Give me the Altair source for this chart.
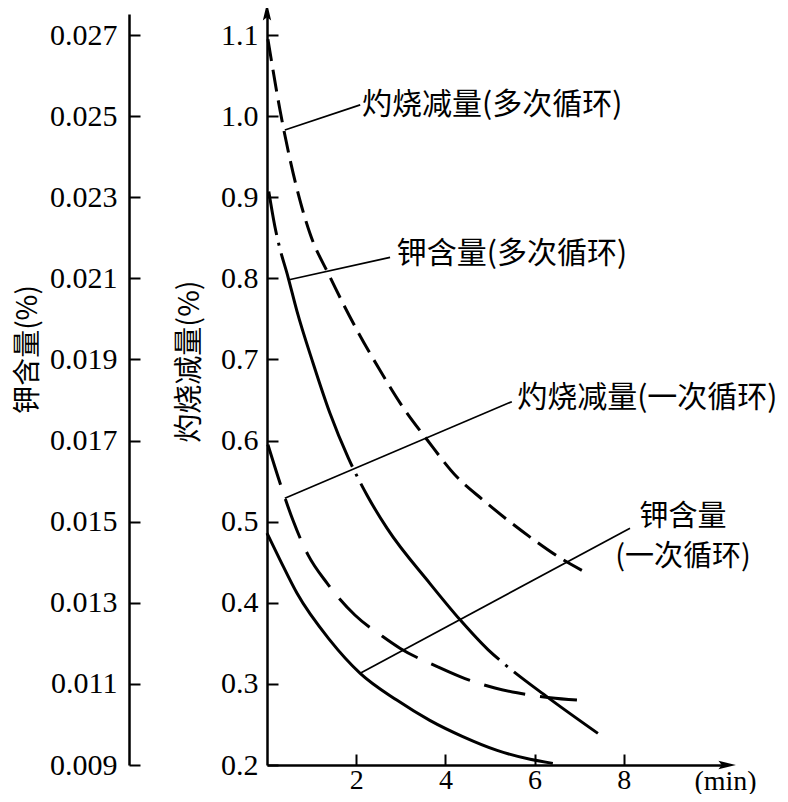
import altair as alt
import pandas as pd

# ---------------- data ----------------
# time in min; loss on ignition in %, potassium content in %
loi_multi_t = [0.02, 0.29, 0.78, 0.96, 1.41, 2.02, 2.53, 3.05, 3.59, 4.26, 4.84, 5.90, 6.64, 7.06]
loi_multi_v = [1.095, 1.008, 0.888, 0.856, 0.802, 0.736, 0.687, 0.641, 0.601, 0.555, 0.527, 0.481, 0.453, 0.440]

loi_single_t = [0.02, 0.29, 0.58, 0.92, 1.35, 1.97, 2.58, 2.98, 3.83, 4.33, 5.11, 5.61, 6.35, 6.95]
loi_single_v = [0.595, 0.548, 0.502, 0.459, 0.424, 0.385, 0.359, 0.344, 0.321, 0.309, 0.295, 0.289, 0.283, 0.280]

k_multi_t = [0.04, 0.18, 0.27, 0.47, 0.67, 1.03, 1.41, 1.82, 2.25, 2.69, 3.65, 4.33, 4.96, 5.29, 6.28, 7.42]
k_multi_v = [0.02314, 0.02226, 0.02182, 0.02104, 0.02020, 0.01892, 0.01768, 0.01658, 0.01564, 0.01484,
             0.01348, 0.01258, 0.01184, 0.01152, 0.01068, 0.00978]

k_single_t = [0.00, 0.30, 0.67, 1.41, 2.09, 2.91, 3.65, 4.39, 5.16, 5.90, 6.41]
k_single_v = [0.01472, 0.01404, 0.01324, 0.01208, 0.01126, 0.01060, 0.01010, 0.00970, 0.00936, 0.00914, 0.00904]

x_ticks = [2, 4, 6, 8]
loi_ticks = [0.2, 0.3, 0.4, 0.5, 0.6, 0.7, 0.8, 0.9, 1.0, 1.1]
k_ticks = [0.009, 0.011, 0.013, 0.015, 0.017, 0.019, 0.021, 0.023, 0.025, 0.027]

# annotations (loss-on-ignition units)
lead_t1 = [0.40, 0.47, 0.40, 2.09]
lead_v1 = [0.983, 0.798, 0.529, 0.313]
lead_t2 = [2.09, 2.76, 5.49, 8.14]
lead_v2 = [1.014, 0.826, 0.648, 0.492]

label_left_text = ["灼烧减量(多次循环)", "钾含量(多次循环)", "灼烧减量(一次循环)"]
label_left_t = [2.13, 2.91, 5.61]
label_left_v = [1.014, 0.830, 0.653]

label_center_text = ["钾含量", "(一次循环)"]
label_center_t = [9.33, 9.33]
label_center_v = [0.506, 0.456]

# ---------------- scales ----------------
X_MAX = 10.27
Y_MIN, Y_MAX = 0.2, 1.126
K_MIN = 0.009
K_MAX = K_MIN + 0.02 * (Y_MAX - Y_MIN)

FONT_NUM = "Liberation Serif"
FONT_CJK = "Noto Sans CJK SC"

x_scale = alt.Scale(domain=[0, X_MAX], nice=False, zero=False)
yl_scale = alt.Scale(domain=[Y_MIN, Y_MAX], nice=False, zero=False)
yk_scale = alt.Scale(domain=[K_MIN, K_MAX], nice=False, zero=False)

common_axis = dict(
    grid=False, domainColor="black", domainWidth=2.5, tickColor="black", tickWidth=2,
    tickSize={"expr": "-11"}, labelFont=FONT_NUM, labelColor="black",
    labelOverlap=False, titleColor="black", titleFontWeight="normal",
)

x_axis = alt.Axis(
    values=x_ticks, format="d", labelPadding=12, labelFlush=False, labelFontSize=28,
    title="(min)", titleFont=FONT_NUM, titleFontSize=28, titleX=458, titleY=16,
    titleAlign="center", titleBaseline="middle", **common_axis,
)
yl_axis = alt.Axis(
    orient="left", values=loi_ticks, format=".1f", labelPadding=20, labelFontSize=30,
    title="灼烧减量(%)", titleFont=FONT_CJK, titleFontSize=29, titleAngle=270,
    titleX=-78, titleY=347, titleAlign="center", titleBaseline="middle", **common_axis,
)
yk_axis = alt.Axis(
    orient="left", offset=138, values=k_ticks, format=".3f", labelPadding=23, labelFontSize=30,
    title="钾含量(%)", titleFont=FONT_CJK, titleFontSize=28, titleAngle=270,
    titleX=-101, titleY=335, titleAlign="center", titleBaseline="middle", **common_axis,
)

X = alt.X("t:Q", scale=x_scale, axis=x_axis)
YL = alt.Y("v:Q", scale=yl_scale, axis=yl_axis)
YK = alt.Y("v:Q", scale=yk_scale, axis=yk_axis)

df_loi_multi = pd.DataFrame({"t": loi_multi_t, "v": loi_multi_v})
df_loi_single = pd.DataFrame({"t": loi_single_t, "v": loi_single_v})
df_k_multi = pd.DataFrame({"t": k_multi_t, "v": k_multi_v})
df_k_single = pd.DataFrame({"t": k_single_t, "v": k_single_v})
df_lead = pd.DataFrame({"t": lead_t1, "v": lead_v1, "t2": lead_t2, "v2": lead_v2})
df_lab_left = pd.DataFrame({"t": label_left_t, "v": label_left_v, "text": label_left_text})
df_lab_center = pd.DataFrame({"t": label_center_t, "v": label_center_v, "text": label_center_text})
df_arrow_up = pd.DataFrame({"t": [0.0], "v": [Y_MAX]})
df_arrow_right = pd.DataFrame({"t": [X_MAX], "v": [Y_MIN]})

line_loi_multi = alt.Chart(df_loi_multi).mark_line(
    color="black", strokeWidth=3, strokeDash=[22, 9], interpolate="monotone"
).encode(x=X, y=YL)

line_loi_single = alt.Chart(df_loi_single).mark_line(
    color="black", strokeWidth=3, strokeDash=[42, 15], interpolate="monotone"
).encode(x=X, y=YL)

leads = alt.Chart(df_lead).mark_rule(color="black", strokeWidth=1.7).encode(
    x=X, y=YL, x2="t2:Q", y2="v2:Q"
)

labels_left = alt.Chart(df_lab_left).mark_text(
    align="left", baseline="middle", font=FONT_CJK, fontSize=30, color="black"
).encode(x=X, y=YL, text="text:N")

labels_center = alt.Chart(df_lab_center).mark_text(
    align="center", baseline="middle", font=FONT_CJK, fontSize=29, color="black"
).encode(x=X, y=YL, text="text:N")

arrow_up = alt.Chart(df_arrow_up).mark_point(
    shape="M0,-1L0.38,0.6L0,0.3L-0.38,0.6Z", filled=True, size=480, color="black", opacity=1
).encode(x=X, y=YL)

arrow_right = alt.Chart(df_arrow_right).mark_point(
    shape="M1,0L-0.6,0.38L-0.3,0L-0.6,-0.38Z", filled=True, size=480, color="black", opacity=1
).encode(x=X, y=YL)

line_k_multi = alt.Chart(df_k_multi).mark_line(
    color="black", strokeWidth=3, strokeDash=[225, 8, 3, 8], strokeDashOffset=181,
    interpolate="monotone"
).encode(x=X, y=YK)

line_k_single = alt.Chart(df_k_single).mark_line(
    color="black", strokeWidth=3, interpolate="monotone"
).encode(x=X, y=YK)

loi_layer = alt.layer(line_loi_multi, line_loi_single, leads, labels_left, labels_center,
                      arrow_up, arrow_right)
k_layer = alt.layer(line_k_multi, line_k_single)

chart = (
    alt.layer(loi_layer, k_layer)
    .resolve_scale(y="independent")
    .properties(
        width=458, height=751, autosize="none",
        padding={"left": 259, "top": 6, "right": 55, "bottom": 29},
        background="white",
    )
    .configure_view(stroke=None)
)

chart.save("out.html", embed_options={"renderer": "svg", "actions": False})
